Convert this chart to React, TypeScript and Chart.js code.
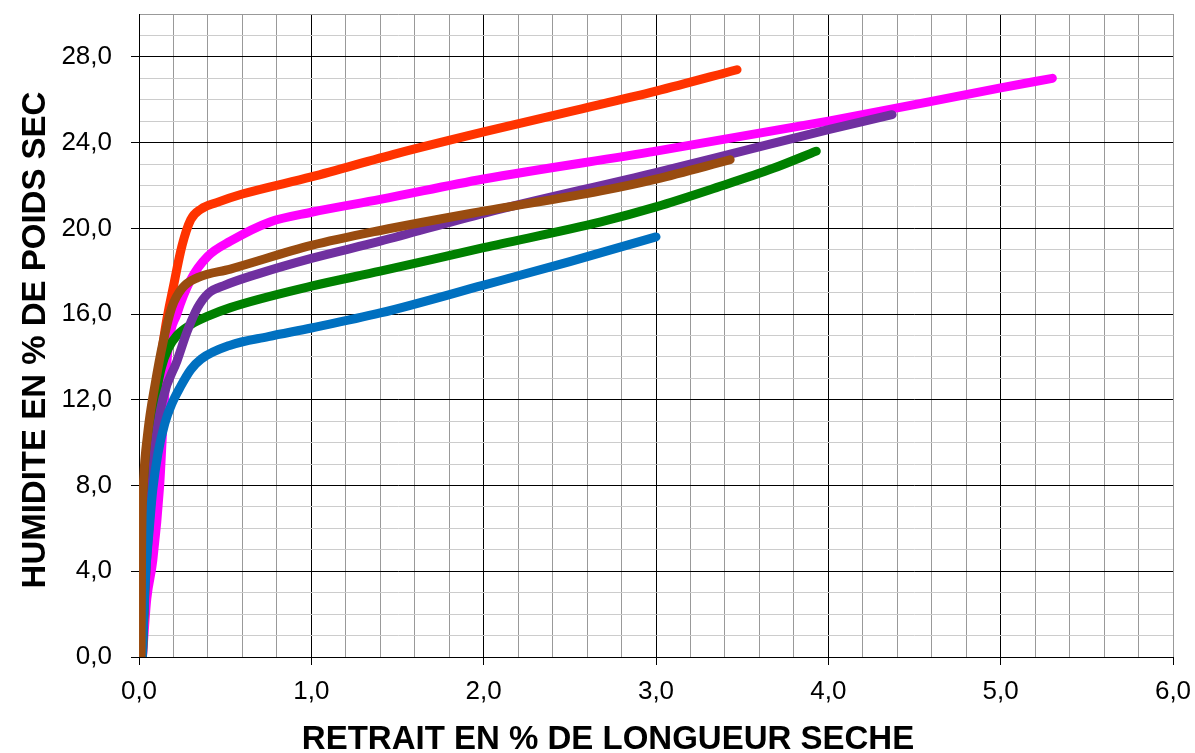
import React, { useEffect, useRef } from 'react';
import { Chart, registerables } from 'chart.js';

Chart.register(...registerables);

const X_TITLE = 'RETRAIT EN % DE LONGUEUR SECHE';
const Y_TITLE = 'HUMIDITE EN % DE POIDS SEC';

const X_MIN = 0;
const X_MAX = 6;
const X_STEP = 0.2;
const Y_MIN = 0;
const Y_MAX = 30;
const Y_STEP = 1;

// series (listed top-most first)
const brownX = [0.012, 0.015, 0.025, 0.05, 0.093, 0.14, 0.19, 0.25, 0.34, 0.53, 1.0, 1.4, 2.0, 2.68, 3.0, 3.43];
const brownY = [0.0, 5.0, 8.0, 10.4, 12.7, 14.7, 16.3, 17.2, 17.7, 18.1, 19.2, 19.9, 20.8, 21.75, 22.3, 23.2];

const blueX = [0.02, 0.035, 0.06, 0.08, 0.11, 0.15, 0.19, 0.24, 0.30, 0.36, 0.53, 0.75, 1.0, 1.4, 2.0, 2.5, 3.0];
const blueY = [0.0, 3.4, 6.0, 7.8, 9.5, 10.9, 11.8, 12.6, 13.4, 13.9, 14.55, 14.95, 15.35, 16.05, 17.35, 18.45, 19.6];

const purpleX = [0.015, 0.04, 0.075, 0.09, 0.14, 0.22, 0.28, 0.34, 0.40, 0.50, 0.70, 1.0, 1.4, 2.0, 3.0, 3.5, 4.0, 4.37];
const purpleY = [0.0, 4.0, 7.9, 9.6, 12.1, 13.8, 15.2, 16.3, 16.95, 17.35, 17.9, 18.6, 19.4, 20.7, 22.6, 23.6, 24.6, 25.3];

const greenX = [0.02, 0.04, 0.08, 0.10, 0.13, 0.17, 0.22, 0.30, 0.40, 0.53, 1.0, 1.4, 2.0, 2.68, 3.0, 3.35, 3.68, 3.93];
const greenY = [0.0, 5.0, 10.0, 12.2, 13.5, 14.4, 15.0, 15.5, 15.9, 16.3, 17.3, 18.0, 19.1, 20.3, 21.0, 21.9, 22.8, 23.6];

const redX = [0.02, 0.05, 0.10, 0.15, 0.20, 0.25, 0.30, 0.36, 0.45, 0.6, 1.0, 1.5, 2.0, 2.5, 3.0, 3.47];
const redY = [0.0, 6.0, 12.0, 15.2, 17.3, 19.2, 20.4, 20.9, 21.2, 21.6, 22.4, 23.5, 24.5, 25.45, 26.4, 27.4];

const magentaX = [0.02, 0.045, 0.08, 0.12, 0.14, 0.17, 0.22, 0.30, 0.40, 0.53, 0.76, 1.0, 1.4, 2.0, 3.0, 4.0, 5.0, 5.30];
const magentaY = [0.0, 2.7, 4.5, 8.0, 11.0, 14.5, 16.0, 17.6, 18.7, 19.4, 20.3, 20.75, 21.35, 22.3, 23.6, 25.0, 26.55, 27.0];

const seriesList = [
  { name: 'brown', xs: brownX, ys: brownY, color: '#994C10' },
  { name: 'blue', xs: blueX, ys: blueY, color: '#0070C0' },
  { name: 'purple', xs: purpleX, ys: purpleY, color: '#7030A0' },
  { name: 'green', xs: greenX, ys: greenY, color: '#008000' },
  { name: 'red', xs: redX, ys: redY, color: '#FF3300' },
  { name: 'magenta', xs: magentaX, ys: magentaY, color: '#FF00FF' },
];

const isMultiple = (v: number, m: number) => {
  const r = v / m;
  return Math.abs(r - Math.round(r)) < 1e-6;
};

const fmt = (v: number) => v.toFixed(1).replace('.', ',');

const titlesPlugin = {
  id: 'axisTitles',
  afterDraw(chart: any) {
    const ctx = chart.ctx;
    ctx.save();
    ctx.fillStyle = '#000';
    ctx.font = 'bold 33px "Liberation Sans", Arial, sans-serif';
    ctx.textAlign = 'center';
    ctx.textBaseline = 'alphabetic';
    ctx.fillText(X_TITLE, 608, 749);
    ctx.translate(45, 340);
    ctx.rotate(-Math.PI / 2);
    ctx.fillText(Y_TITLE, 0, 0);
    ctx.restore();
  },
};

const zeroPadding = (scale: any) => {
  scale.paddingTop = 0;
  scale.paddingBottom = 0;
  scale.paddingLeft = 0;
  scale.paddingRight = 0;
};

export default function App() {
  const ref = useRef<HTMLCanvasElement | null>(null);

  useEffect(() => {
    if (!ref.current) return;
    const datasets = seriesList.map((s) => ({
      label: s.name,
      data: s.xs.map((x, i) => ({ x, y: s.ys[i] })),
      borderColor: s.color,
      backgroundColor: s.color,
      borderWidth: 9,
      borderCapStyle: 'round' as const,
      borderJoinStyle: 'round' as const,
      pointRadius: 0,
      fill: false,
      cubicInterpolationMode: 'monotone' as const,
    }));

    const chart = new Chart(ref.current, {
      type: 'line',
      data: { datasets },
      plugins: [titlesPlugin],
      options: {
        animation: false,
        responsive: false,
        devicePixelRatio: 1,
        layout: { padding: { left: 0, top: 14, right: 22, bottom: 0 } },
        plugins: {
          legend: { display: false },
          tooltip: { enabled: false },
          title: { display: false },
        },
        scales: {
          x: {
            type: 'linear',
            min: X_MIN,
            max: X_MAX,
            afterFit: (scale: any) => {
              scale.height = 96;
              zeroPadding(scale);
            },
            ticks: {
              stepSize: X_STEP,
              autoSkip: false,
              maxRotation: 0,
              padding: 11,
              color: '#000',
              font: { family: '"Liberation Sans", Arial, sans-serif', size: 26 },
              callback: (v: any) => (isMultiple(Number(v), 1) ? fmt(Number(v)) : ''),
            },
            grid: {
              color: (c: any) => {
                const v = c.tick ? c.tick.value : 0;
                if (Math.abs(v - X_MAX) < 1e-6) return '#999999';
                return isMultiple(v, 1) ? '#000000' : '#999999';
              },
              tickColor: (c: any) => {
                const v = c.tick ? c.tick.value : 0;
                return isMultiple(v, 1) ? '#000000' : 'rgba(0,0,0,0)';
              },
              lineWidth: 1,
              tickLength: 8,
            },
            border: { color: '#000000', width: 1 },
          },
          y: {
            type: 'linear',
            min: Y_MIN,
            max: Y_MAX,
            afterFit: (scale: any) => {
              scale.width = 139;
              zeroPadding(scale);
            },
            ticks: {
              stepSize: Y_STEP,
              autoSkip: false,
              padding: 19,
              color: '#000',
              font: { family: '"Liberation Sans", Arial, sans-serif', size: 26 },
              callback: (v: any) => (isMultiple(Number(v), 4) ? fmt(Number(v)) : ''),
            },
            grid: {
              color: (c: any) => {
                const v = c.tick ? c.tick.value : 0;
                if (Math.abs(v - Y_MAX) < 1e-6) return '#999999';
                return isMultiple(v, 4) ? '#000000' : '#CCCCCC';
              },
              tickColor: (c: any) => {
                const v = c.tick ? c.tick.value : 0;
                return isMultiple(v, 4) ? '#000000' : 'rgba(0,0,0,0)';
              },
              lineWidth: 1,
              tickLength: 8,
            },
            border: { color: '#000000', width: 1 },
          },
        },
      },
    });
    return () => chart.destroy();
  }, []);

  return (
    <div style={{ position: 'fixed', left: 0, top: 0, width: 1195, height: 753, background: '#fff' }}>
      <canvas ref={ref} width={1195} height={753} style={{ display: 'block' }} />
    </div>
  );
}
